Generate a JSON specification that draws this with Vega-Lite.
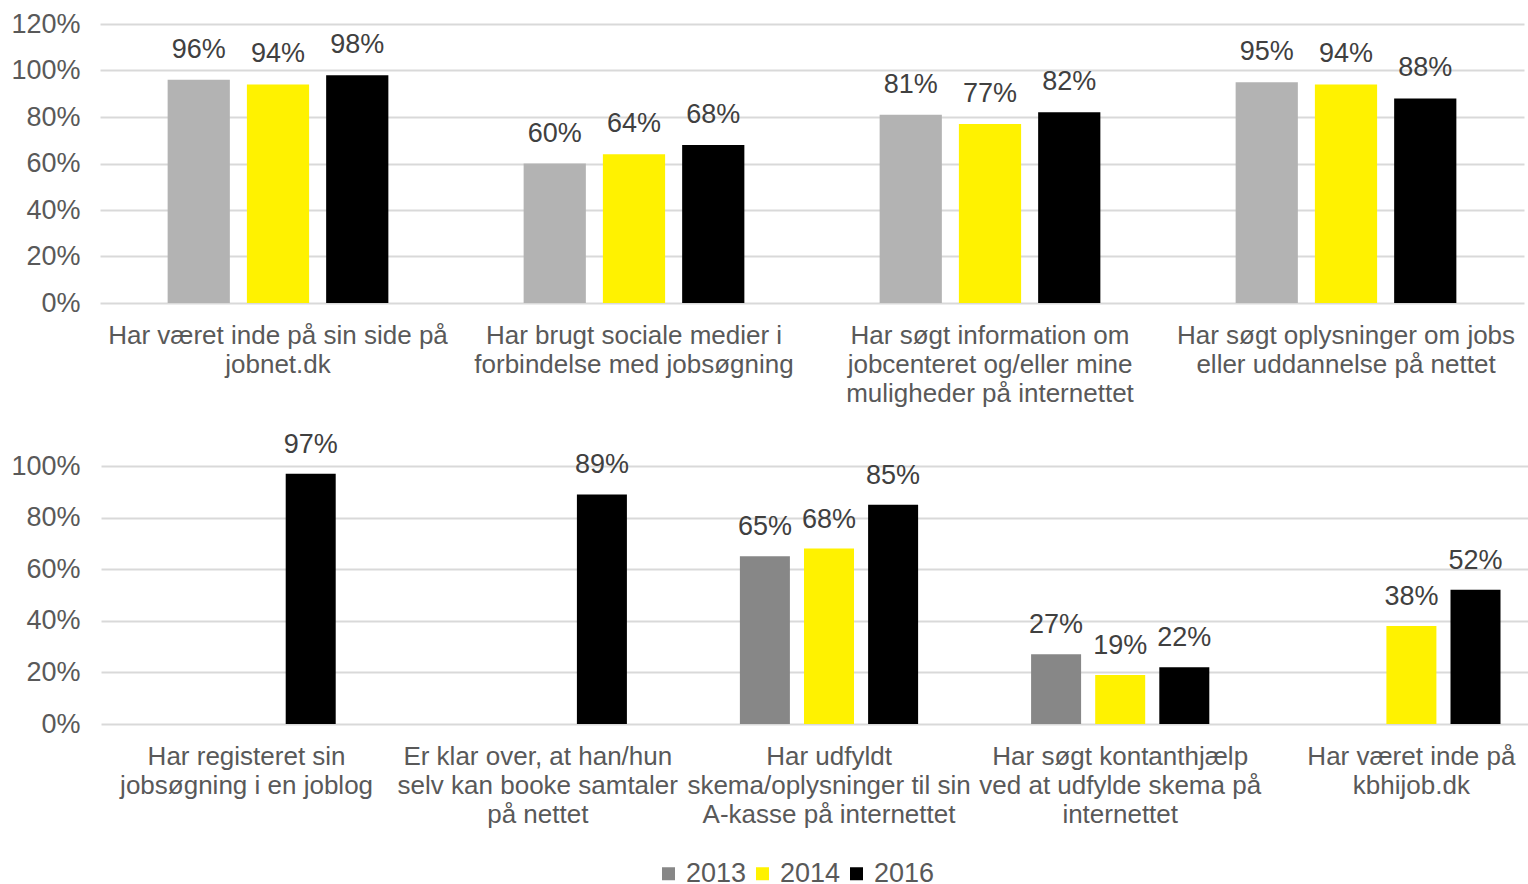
{
  "$schema": "https://vega.github.io/schema/vega-lite/v6.json",
  "padding": {"left": 10, "top": 10, "right": 0, "bottom": 0},
  "background": "white",
  "datasets": {
    "oeverst": [
      {"kategori": "Har været inde på sin side på|jobnet.dk", "aar": "2013", "andel": 0.96},
      {"kategori": "Har været inde på sin side på|jobnet.dk", "aar": "2014", "andel": 0.94},
      {"kategori": "Har været inde på sin side på|jobnet.dk", "aar": "2016", "andel": 0.98},
      {"kategori": "Har brugt sociale medier i|forbindelse med jobsøgning", "aar": "2013", "andel": 0.60},
      {"kategori": "Har brugt sociale medier i|forbindelse med jobsøgning", "aar": "2014", "andel": 0.64},
      {"kategori": "Har brugt sociale medier i|forbindelse med jobsøgning", "aar": "2016", "andel": 0.68},
      {"kategori": "Har søgt information om|jobcenteret og/eller mine|muligheder på internettet", "aar": "2013", "andel": 0.81},
      {"kategori": "Har søgt information om|jobcenteret og/eller mine|muligheder på internettet", "aar": "2014", "andel": 0.77},
      {"kategori": "Har søgt information om|jobcenteret og/eller mine|muligheder på internettet", "aar": "2016", "andel": 0.82},
      {"kategori": "Har søgt oplysninger om jobs|eller uddannelse på nettet", "aar": "2013", "andel": 0.95},
      {"kategori": "Har søgt oplysninger om jobs|eller uddannelse på nettet", "aar": "2014", "andel": 0.94},
      {"kategori": "Har søgt oplysninger om jobs|eller uddannelse på nettet", "aar": "2016", "andel": 0.88}
    ],
    "nederst": [
      {"kategori": "Har registeret sin|jobsøgning i en joblog", "aar": "2016", "andel": 0.97},
      {"kategori": "Er klar over, at han/hun|selv kan booke samtaler|på nettet", "aar": "2016", "andel": 0.89},
      {"kategori": "Har udfyldt|skema/oplysninger til sin|A-kasse på internettet", "aar": "2013", "andel": 0.65},
      {"kategori": "Har udfyldt|skema/oplysninger til sin|A-kasse på internettet", "aar": "2014", "andel": 0.68},
      {"kategori": "Har udfyldt|skema/oplysninger til sin|A-kasse på internettet", "aar": "2016", "andel": 0.85},
      {"kategori": "Har søgt kontanthjælp|ved at udfylde skema på|internettet", "aar": "2013", "andel": 0.27},
      {"kategori": "Har søgt kontanthjælp|ved at udfylde skema på|internettet", "aar": "2014", "andel": 0.19},
      {"kategori": "Har søgt kontanthjælp|ved at udfylde skema på|internettet", "aar": "2016", "andel": 0.22},
      {"kategori": "Har været inde på|kbhijob.dk", "aar": "2014", "andel": 0.38},
      {"kategori": "Har været inde på|kbhijob.dk", "aar": "2016", "andel": 0.52}
    ]
  },
  "bounds": "flush",
  "spacing": 163,
  "vconcat": [
    {
      "width": 1428,
      "height": 279,
      "data": {"name": "oeverst"},
      "encoding": {
        "x": {
          "field": "kategori", "type": "nominal", "sort": null, "title": null,
          "scale": {"range": [2, 1426], "paddingInner": 0.38, "paddingOuter": 0.19},
          "axis": {"labelExpr": "split(datum.label, '|')"}
        },
        "xOffset": {
          "field": "aar", "type": "nominal",
          "scale": {"domain": ["2013", "2014", "2016"], "paddingInner": 0.215, "paddingOuter": 0}
        },
        "y": {
          "field": "andel", "type": "quantitative", "title": null,
          "scale": {"domain": [0, 1.2], "nice": false},
          "axis": {"values": [0, 0.2, 0.4, 0.6, 0.8, 1.0, 1.2], "format": ".0%"}
        }
      },
      "layer": [
        {
          "mark": {"type": "bar"},
          "encoding": {
            "color": {
              "field": "aar", "type": "nominal", "legend": null,
              "scale": {"domain": ["2013", "2014", "2016"], "range": ["#B3B3B3", "#FFF200", "#000000"]}
            }
          }
        },
        {
          "mark": {"type": "text", "dy": -30, "fontSize": 27, "color": "#404040", "baseline": "middle"},
          "encoding": {"text": {"field": "andel", "type": "quantitative", "format": ".0%"}}
        }
      ]
    },
    {
      "width": 1428,
      "height": 258,
      "data": {"name": "nederst"},
      "encoding": {
        "x": {
          "field": "kategori", "type": "nominal", "sort": null, "title": null,
          "scale": {"range": [3, 1459], "paddingInner": 0.388, "paddingOuter": 0.194},
          "axis": {"labelExpr": "split(datum.label, '|')"}
        },
        "xOffset": {
          "field": "aar", "type": "nominal",
          "scale": {"domain": ["2013", "2014", "2016"], "paddingInner": 0.22, "paddingOuter": 0}
        },
        "y": {
          "field": "andel", "type": "quantitative", "title": null,
          "scale": {"domain": [0, 1], "nice": false},
          "axis": {"values": [0, 0.2, 0.4, 0.6, 0.8, 1.0], "format": ".0%"}
        }
      },
      "layer": [
        {
          "mark": {"type": "bar"},
          "encoding": {
            "color": {
              "field": "aar", "type": "nominal", "title": null,
              "scale": {"domain": ["2013", "2014", "2016"], "range": ["#878787", "#FFF200", "#000000"]},
              "legend": {
                "orient": "none", "direction": "horizontal",
                "legendX": 557, "legendY": 394
              }
            }
          }
        },
        {
          "mark": {"type": "text", "dy": -29, "fontSize": 27, "color": "#404040", "baseline": "middle"},
          "encoding": {"text": {"field": "andel", "type": "quantitative", "format": ".0%"}}
        }
      ]
    }
  ],
  "resolve": {
    "scale": {"color": "independent", "x": "independent", "xOffset": "independent", "y": "independent"},
    "axis": {"x": "independent", "y": "independent"},
    "legend": {"color": "independent"}
  },
  "config": {
    "font": "Liberation Sans",
    "view": {"stroke": null},
    "axisX": {
      "domain": false, "ticks": false, "grid": false,
      "labelAngle": 0, "labelFontSize": 26, "labelColor": "#595959",
      "labelBaseline": "top", "labelPadding": 19, "labelLineHeight": 29,
      "labelLimit": 0, "labelOverlap": false
    },
    "axisY": {
      "domain": false, "ticks": false, "grid": true,
      "gridColor": "#D9D9D9", "gridWidth": 2,
      "labelFontSize": 27, "labelColor": "#595959", "labelPadding": 18
    },
    "legend": {
      "symbolType": "square", "symbolSize": 169, "symbolStrokeWidth": 0,
      "labelFontSize": 27, "labelColor": "#595959", "labelOffset": 4,
      "columnPadding": 2, "symbolOpacity": 1
    }
  }
}
